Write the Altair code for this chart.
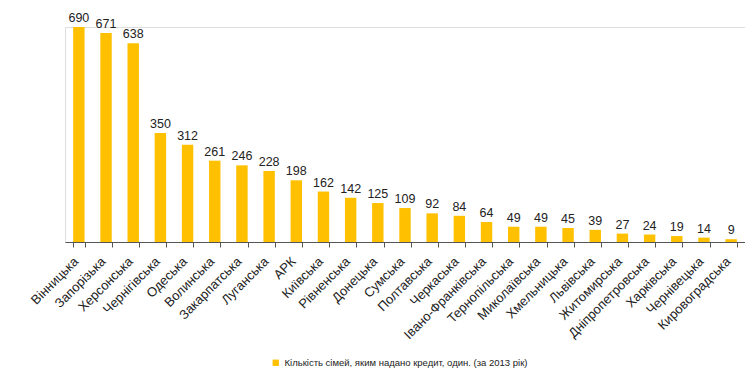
import altair as alt
import pandas as pd

regions = ["Вінницька", "Запорізька", "Херсонська", "Чернігівська", "Одеська",
           "Волинська", "Закарпатська", "Луганська", "АРК", "Київська",
           "Рівненська", "Донецька", "Сумська", "Полтавська", "Черкаська",
           "Івано-Франківська", "Тернопільська", "Миколаївська", "Хмельницька",
           "Львівська", "Житомирська", "Дніпропетровська", "Харківська",
           "Чернівецька", "Кировоградська"]
values = [690, 671, 638, 350, 312, 261, 246, 228, 198, 162, 142, 125, 109, 92,
          84, 64, 49, 49, 45, 39, 27, 24, 19, 14, 9]
series_name = "Кількість сімей, яким надано кредит, один. (за 2013 рік)"

df = pd.DataFrame({"region": regions, "value": values, "series": series_name})

font = "Liberation Sans"

x = alt.X("region:N", sort=regions, title=None,
          scale=alt.Scale(paddingInner=0.58, paddingOuter=0.3),
          axis=alt.Axis(labelAngle=-45, labelAlign="right", labelBaseline="middle",
                        labelFont=font, labelFontSize=13, labelColor="#222",
                        tickBand="extent", tickSize=5, tickColor="#555",
                        domainColor="#555", labelPadding=12, labelOffset=-3))
y = alt.Y("value:Q", title=None, scale=alt.Scale(domain=[0, 690], nice=False),
          axis=None)

bars = alt.Chart(df).mark_bar().encode(
    x=x, y=y,
    color=alt.Color("series:N", scale=alt.Scale(range=["#FFC000"]),
                    legend=alt.Legend(orient="none", legendX=206, legendY=331,
                                      title=None, symbolType="square", symbolSize=40,
                                      labelFont=font, labelFontSize=9.5,
                                      labelLimit=0, labelColor="#222"))
)
labels = alt.Chart(df).mark_text(dy=-9, font=font, fontSize=12.5, color="#222").encode(
    x=alt.X("region:N", sort=regions), y="value:Q", text="value:Q"
)

chart = (bars + labels).properties(
    width=680, height=215,
    autosize=alt.AutoSizeParams(type="none"),
    padding={"left": 57, "top": 19, "right": 0, "bottom": 130},
).configure_view(stroke=None).configure(background="white")

chart.save("out.html", embed_options={"renderer": "svg", "actions": False})
